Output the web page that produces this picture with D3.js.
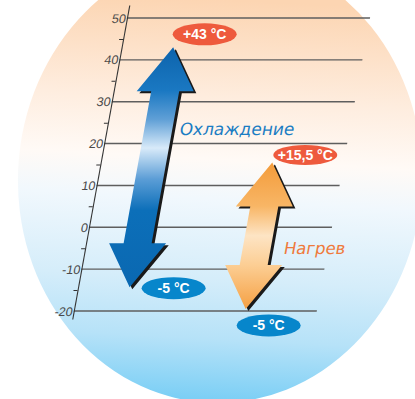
<!DOCTYPE html>
<html><head><meta charset="utf-8">
<script src="https://cdn.jsdelivr.net/npm/d3@7"></script>
<style>html,body{margin:0;padding:0;background:#fff;}svg{display:block;}</style>
</head><body>
<script>
// ---- data ----
const categories = ["Охлаждение", "Нагрев"];
const arrowTop = [43, 15.5];          // upper arrow tip (°C, as drawn)
const arrowBottom = [-14.3, -19.5];   // lower arrow tip (as drawn)
const topLabels = ["+43 °C", "+15,5 °C"];
const bottomLabels = ["-5 °C", "-5 °C"];
const majorTicks = [-20, -10, 0, 10, 20, 30, 40, 50];
const minorTicks = [-15, -5, 5, 15, 25, 35, 45];

// ---- layout ----
const W = 415, H = 399;
const k = 0.1816;                       // slant of the axis (dx per dy)
const x0 = 127 + k * 18;
const y = d3.scaleLinear().domain([-20, 50]).range([311, 18]);
const yAxisScale = y.copy().domain([-21.9, 53.1]).range([y(-21.9), y(53.1)]);
const xs = d3.scalePoint().domain(categories).range([51.5, 171.5]);
const gridLen = 243;
const toScreen = (sx, sy) => [sx + x0 - k * sy, sy];

const svg = d3.select("body").append("svg").attr("width", W).attr("height", H)
  .attr("viewBox", `0 0 ${W} ${H}`);
const defs = svg.append("defs");

// background gradient
const bg = defs.append("linearGradient").attr("id", "bg")
  .attr("gradientUnits", "userSpaceOnUse").attr("x1", 0).attr("x2", 0).attr("y1", 0).attr("y2", H);
[[0, "#fcd5b2"], [0.25, "#feeddf"], [0.4, "#fffaf6"], [0.5, "#f1f8fd"],
 [0.7, "#d5edfa"], [0.85, "#b6e2f8"], [1, "#7ccff5"]]
  .forEach(([o, c]) => bg.append("stop").attr("offset", o).attr("stop-color", c));

svg.append("ellipse").attr("cx", 220).attr("cy", 178).attr("rx", 202).attr("ry", 225)
  .attr("transform", "rotate(3 220 178)").attr("fill", "url(#bg)");

// slanted chart group
const g = svg.append("g").attr("transform",
  `translate(${x0},0) skewX(${-Math.atan(k) * 180 / Math.PI})`);

// arrow gradients
const gradStops = [
  [[0, "#0d63ac"], [0.18, "#1a78c2"], [0.3, "#5f9fd6"], [0.42, "#d8eaf9"],
   [0.55, "#5b9dd6"], [0.68, "#0c6fb9"], [1, "#0a68b1"]],
  [[0, "#f39b3a"], [0.3, "#f8b666"], [0.5, "#fde4c4"], [0.7, "#fcce94"], [1, "#f5a043"]]
];
categories.forEach((c, i) => {
  const gr = defs.append("linearGradient").attr("id", "ag" + i)
    .attr("gradientUnits", "userSpaceOnUse")
    .attr("x1", 0).attr("x2", 0).attr("y1", y(arrowTop[i])).attr("y2", y(arrowBottom[i]));
  gradStops[i].forEach(([o, col]) => gr.append("stop").attr("offset", o).attr("stop-color", col));
});

// gridlines
g.append("g").selectAll("line").data(majorTicks).join("line")
  .attr("x1", 0).attr("x2", gridLen)
  .attr("y1", d => y(d)).attr("y2", d => y(d))
  .attr("stroke", "#5e5e5e").attr("stroke-width", 1.4);

// axis (major labels)
const axis = d3.axisLeft(yAxisScale).tickValues(majorTicks).tickSize(0).tickSizeOuter(0).tickPadding(1)
  .tickFormat(d => String(d));
const ag = g.append("g").call(axis);
ag.select(".domain").attr("stroke", "#333").attr("stroke-width", 1.1);
ag.selectAll("text").attr("font-family", "Liberation Sans, Arial, sans-serif")
  .attr("font-size", 12.5).attr("fill", "#4a4a4a");

// minor ticks
const mg = g.append("g").call(d3.axisLeft(y).tickValues(minorTicks).tickSize(4).tickFormat(""));
mg.select(".domain").remove();
mg.selectAll("line").attr("stroke", "#333").attr("stroke-width", 1);

// arrows
const HL = 44, HW = 28.5, SW = 14;
function arrowPath(i) {
  const cx = xs(categories[i]), yT = y(arrowTop[i]), yB = y(arrowBottom[i]);
  const pts = [
    [cx, yT], [cx + HW, yT + HL], [cx + SW, yT + HL], [cx + SW, yB - HL],
    [cx + HW, yB - HL], [cx, yB], [cx - HW, yB - HL], [cx - SW, yB - HL],
    [cx - SW, yT + HL], [cx - HW, yT + HL]
  ];
  return d3.line()(pts) + "Z";
}
const arrows = g.append("g").selectAll("g").data(categories).join("g");
arrows.append("path").attr("d", (d, i) => arrowPath(i))
  .attr("transform", "translate(3,2)").attr("fill", "#1a1a1a");
arrows.append("path").attr("d", (d, i) => arrowPath(i))
  .attr("fill", (d, i) => `url(#ag${i})`);

// category labels (slanted with the chart)
const catColors = ["#1b7dc3", "#ef7a3c"];
const catDx = [21.5, 27.4];
const catBaseVal = [50 - (135 - 18) / (293 / 70), 50 - (254 - 18) / (293 / 70)];
g.append("g").selectAll("text").data(categories).join("text")
  .attr("x", (d, i) => xs(d) + catDx[i])
  .attr("y", (d, i) => y(catBaseVal[i]))
  .attr("font-family", "DejaVu Sans, sans-serif")
  .attr("font-size", (d, i) => i === 0 ? 17 : 16.5)
  .attr("fill", (d, i) => catColors[i])
  .text(d => d);

// value badges
const topOff = [[31.5, -13], [33, -7.5]];
const botOff = [[44, 1], [23, 16.5]];
const badges = [];
categories.forEach((c, i) => {
  const t = toScreen(xs(c), y(arrowTop[i]));
  badges.push({x: t[0] + topOff[i][0], y: t[1] + topOff[i][1], text: topLabels[i], fill: "#ee5a3d", ry: i === 0 ? 11 : 10});
  const b = toScreen(xs(c), y(arrowBottom[i]));
  badges.push({x: b[0] + botOff[i][0], y: b[1] + botOff[i][1], text: bottomLabels[i], fill: "#0786cb", ry: 11});
});
const bgp = svg.append("g").selectAll("g").data(badges).join("g")
  .attr("transform", d => `translate(${d.x},${d.y})`);
bgp.append("ellipse").attr("rx", 32).attr("ry", d => d.ry).attr("fill", d => d.fill);
bgp.append("text").attr("text-anchor", "middle").attr("dy", "0.36em")
  .attr("font-family", "Liberation Sans, Arial, sans-serif").attr("font-weight", "bold")
  .attr("font-size", 14).attr("fill", "#fff").text(d => d.text);
</script>
</body></html>
